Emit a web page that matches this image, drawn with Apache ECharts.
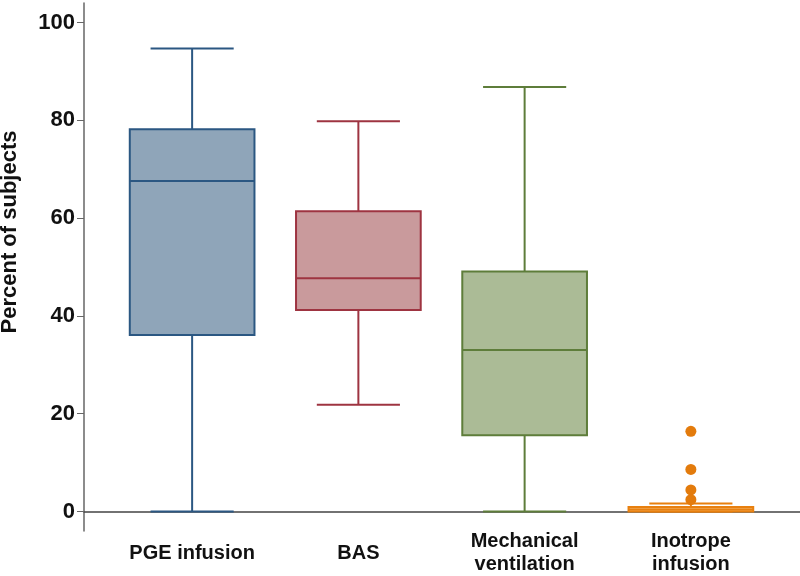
<!DOCTYPE html>
<html>
<head>
<meta charset="utf-8">
<script src="https://cdn.jsdelivr.net/npm/echarts@6/dist/echarts.min.js"></script>
<style>
  html, body { margin: 0; padding: 0; background: #fff; }
  #chart { width: 800px; height: 576px; }
</style>
</head>
<body>
<div id="chart"></div>
<script>
const categories = ['PGE infusion', 'BAS', 'Mechanical\nventilation', 'Inotrope\ninfusion'];
// [min, Q1, median, Q3, max]
const boxValues = [
  [0, 36.1, 67.6, 78.2, 94.7],
  [21.8, 41.2, 47.7, 61.4, 79.8],
  [0, 15.6, 33.0, 49.1, 86.8],
  [0, 0, 0.4, 0.9, 1.6]
];
const outliers = [[3, 16.4], [3, 8.6], [3, 4.4], [3, 2.4]];
const yTicks = [0, 20, 40, 60, 80, 100];

const fills = ['#8fa5b9', '#c99a9c', '#abbb96', '#f5b875'];
const strokes = ['#2b5782', '#9e3441', '#5e7d3a', '#e8800f'];
const font = 'Liberation Sans, Arial, sans-serif';

let chart = echarts.init(document.getElementById('chart'));

function renderBox(params, api) {
  let i = api.value(0);
  let x = api.coord([i, 0])[0];
  let band = api.size([1, 0])[0];
  let bw = band * 0.75, cw = band * 0.5;
  let yMin = api.coord([i, api.value(1)])[1];
  let yQ1 = api.coord([i, api.value(2)])[1];
  let yMed = api.coord([i, api.value(3)])[1];
  let yQ3 = api.coord([i, api.value(4)])[1];
  let yMax = api.coord([i, api.value(5)])[1];
  let line = { stroke: strokes[i], lineWidth: 2 };
  return {
    type: 'group',
    children: [
      { type: 'line', shape: { x1: x, y1: yQ3, x2: x, y2: yMax }, style: line },
      { type: 'line', shape: { x1: x - cw / 2, y1: yMax, x2: x + cw / 2, y2: yMax }, style: line },
      { type: 'line', shape: { x1: x, y1: yQ1, x2: x, y2: yMin }, style: line },
      { type: 'line', shape: { x1: x - cw / 2, y1: yMin, x2: x + cw / 2, y2: yMin }, style: line },
      { type: 'rect', shape: { x: x - bw / 2, y: yQ3, width: bw, height: yQ1 - yQ3 },
        style: { fill: fills[i], stroke: strokes[i], lineWidth: 2 } },
      { type: 'line', shape: { x1: x - bw / 2, y1: yMed, x2: x + bw / 2, y2: yMed }, style: line }
    ]
  };
}

let option = {
  backgroundColor: '#fff',
  animation: false,
  grid: [
    { left: 84, right: 0, top: 3, bottom: 45 },
    { left: 109, right: 26, top: 3, bottom: 45 }
  ],
  xAxis: [
    {
      type: 'value', gridIndex: 0, min: 0, max: 1,
      axisLine: { show: true, lineStyle: { color: '#444', width: 1.5 } },
      axisTick: { show: false }, axisLabel: { show: false }, splitLine: { show: false }
    },
    {
      type: 'category', gridIndex: 1, data: categories,
      axisLine: { show: false }, axisTick: { show: false }, splitLine: { show: false },
      axisLabel: {
        interval: 0, margin: 22, verticalAlign: 'middle',
        fontFamily: font, fontWeight: 'bold', fontSize: 20, lineHeight: 23, color: '#111'
      }
    }
  ],
  yAxis: [
    {
      type: 'value', gridIndex: 0, min: -4, max: 104,
      axisLine: { show: true, lineStyle: { color: '#666', width: 1.5 } },
      axisTick: { show: true, length: 7, customValues: yTicks, lineStyle: { color: '#666' } },
      axisLabel: {
        customValues: yTicks, margin: 9,
        fontFamily: font, fontWeight: 'bold', fontSize: 22, color: '#111'
      },
      splitLine: { show: false }
    },
    { type: 'value', gridIndex: 1, min: -4, max: 104, show: false }
  ],
  graphic: [{
    type: 'text', x: 10, y: 232, rotation: Math.PI / 2,
    style: {
      text: 'Percent of subjects', fill: '#111',
      font: 'bold 22px ' + font, align: 'center', verticalAlign: 'middle'
    }
  }],
  series: [
    {
      type: 'custom', xAxisIndex: 1, yAxisIndex: 1,
      renderItem: renderBox,
      encode: { x: 0, y: [1, 2, 3, 4, 5] },
      data: boxValues.map((b, i) => [i].concat(b))
    },
    {
      type: 'scatter', xAxisIndex: 1, yAxisIndex: 1,
      symbolSize: 11,
      itemStyle: { color: '#e37b0c', opacity: 1 },
      data: outliers
    }
  ]
};
chart.setOption(option);
</script>
</body>
</html>
